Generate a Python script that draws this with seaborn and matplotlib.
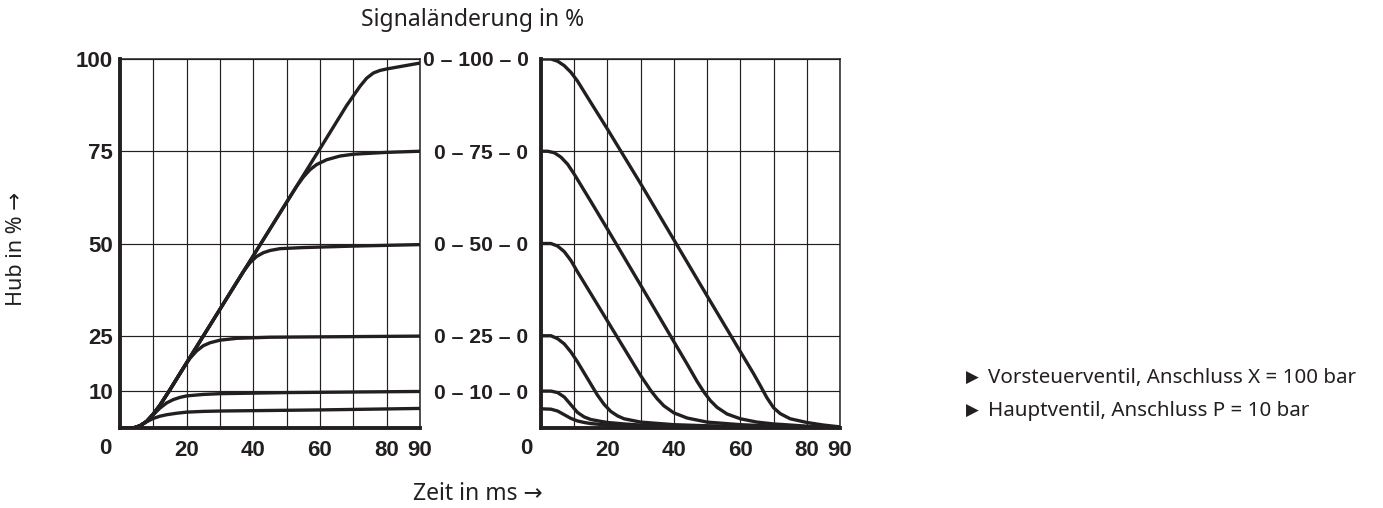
import matplotlib
matplotlib.use("Agg")
import matplotlib.pyplot as plt
import seaborn as sns
import pandas as pd

sns.set_theme(style="white")
plt.rcParams["font.family"] = ["Noto Sans", "DejaVu Sans"]

INK = "#231f20"
TICK_FONT = ["Liberation Sans", "DejaVu Sans"]

# axis ticks
time_ticks = [20, 40, 60, 80, 90]
time_grid = [10, 30, 50, 70]
level_ticks = [10, 25, 50, 75, 100]
level_labels_left = ["10", "25", "50", "75", "100"]
level_labels_right = ["0 – 10 – 0", "0 – 25 – 0", "0 – 50 – 0", "0 – 75 – 0", "0 – 100 – 0"]

# stroke build-up after a step signal (time in ms, stroke in %)
rise_t_100 = [0, 4, 6, 8, 10, 12, 15, 20, 30, 40, 50, 60, 68, 70, 72, 74, 76, 78, 80, 85, 90]
rise_h_100 = [0, 0, 0.6, 1.8, 3.8, 6.2, 10.4, 17.7, 32.2, 46.7, 61.2, 75.7, 87.4, 90.0, 92.6, 94.8, 96.2, 96.9, 97.3, 98.1, 98.9]
rise_t_75 = [0, 4, 6, 8, 10, 12, 15, 20, 30, 40, 50, 53, 55, 57, 59, 62, 66, 70, 80, 90]
rise_h_75 = [0, 0, 0.6, 1.8, 3.8, 6.2, 10.4, 17.7, 32.2, 46.7, 61.2, 65.5, 68.0, 70.0, 71.4, 72.7, 73.7, 74.2, 74.7, 75.0]
rise_t_50 = [0, 4, 6, 8, 10, 12, 15, 20, 30, 35, 37, 39, 41, 43, 45, 48, 55, 70, 90]
rise_h_50 = [0, 0, 0.6, 1.8, 3.8, 6.2, 10.4, 17.7, 32.2, 39.5, 42.4, 44.8, 46.5, 47.5, 48.1, 48.6, 48.9, 49.3, 49.7]
rise_t_25 = [0, 4, 6, 8, 10, 12, 15, 17, 19, 21, 23, 25, 27, 30, 35, 45, 90]
rise_h_25 = [0, 0, 0.6, 1.8, 3.8, 6.2, 10.4, 13.3, 16.2, 18.9, 20.9, 22.3, 23.1, 23.8, 24.3, 24.6, 24.9]
rise_t_10 = [0, 4, 6, 8, 10, 12, 14, 16, 18, 20, 25, 30, 50, 90]
rise_h_10 = [0, 0, 0.6, 1.8, 3.6, 5.4, 6.8, 7.7, 8.3, 8.7, 9.1, 9.3, 9.6, 9.9]
rise_t_5 = [0, 4, 6, 8, 10, 12, 14, 17, 20, 25, 30, 60, 90]
rise_h_5 = [0, 0, 0.6, 1.7, 2.6, 3.2, 3.6, 4.0, 4.3, 4.5, 4.6, 4.9, 5.3]

# stroke return after the signal is taken back
fall_t_100 = [0, 3, 5, 7, 9, 11, 15, 20, 30, 40, 50, 60, 64, 66, 68, 70, 72, 75, 80, 85, 90]
fall_h_100 = [100, 100, 99.4, 98.2, 96.4, 94.0, 88.2, 81.0, 66.2, 51.0, 35.8, 20.7, 14.7, 11.5, 8.2, 5.5, 3.9, 2.5, 1.5, 0.8, 0.3]
fall_t_75 = [0, 2, 4, 6, 8, 10, 15, 20, 30, 40, 44, 47, 49, 51, 53, 56, 60, 65, 70, 80, 90]
fall_h_75 = [75, 75, 74.6, 73.4, 71.5, 68.8, 61.4, 53.9, 38.7, 23.4, 17.3, 12.6, 9.8, 7.4, 5.6, 3.8, 2.5, 1.6, 1.1, 0.5, 0.2]
fall_t_50 = [0, 3, 5, 7, 9, 11, 15, 20, 25, 30, 33, 35, 37, 40, 44, 50, 60, 70, 90]
fall_h_50 = [50, 50, 49.3, 47.8, 45.4, 42.3, 36.4, 29.0, 21.6, 14.2, 10.2, 7.9, 6.0, 4.1, 2.7, 1.6, 0.9, 0.5, 0.1]
fall_t_25 = [0, 3, 5, 7, 9, 11, 13, 15, 17, 19, 21, 23, 25, 30, 40, 50, 70, 90]
fall_h_25 = [25, 25, 24.2, 22.8, 20.6, 17.9, 14.9, 11.9, 8.9, 6.4, 4.5, 3.3, 2.5, 1.6, 0.9, 0.6, 0.3, 0.1]
fall_t_10 = [0, 3, 5, 7, 9, 11, 13, 15, 18, 20, 25, 30, 40, 60, 90]
fall_h_10 = [10, 10, 9.6, 8.4, 6.3, 4.2, 3.0, 2.3, 1.8, 1.5, 1.1, 0.8, 0.6, 0.3, 0.1]
fall_t_5 = [0, 3, 5, 7, 9, 11, 13, 15, 20, 30, 40, 60, 90]
fall_h_5 = [5.2, 5.1, 4.6, 3.6, 2.6, 1.9, 1.5, 1.2, 0.8, 0.5, 0.3, 0.2, 0.0]


def frame(pairs):
    parts = []
    for name, t, h in pairs:
        parts.append(pd.DataFrame({"t": t, "h": h, "curve": name}))
    return pd.concat(parts, ignore_index=True)


rise = frame([
    ("100", rise_t_100, rise_h_100), ("75", rise_t_75, rise_h_75),
    ("50", rise_t_50, rise_h_50), ("25", rise_t_25, rise_h_25),
    ("10", rise_t_10, rise_h_10), ("5", rise_t_5, rise_h_5),
])
fall = frame([
    ("100", fall_t_100, fall_h_100), ("75", fall_t_75, fall_h_75),
    ("50", fall_t_50, fall_h_50), ("25", fall_t_25, fall_h_25),
    ("10", fall_t_10, fall_h_10), ("5", fall_t_5, fall_h_5),
])

W, H = 1383, 508
fig = plt.figure(figsize=(W / 100, H / 100), dpi=100)
ax_l = fig.add_axes([120 / W, 80 / H, 300 / W, 369 / H])
ax_r = fig.add_axes([541 / W, 80 / H, 299 / W, 369 / H])


def style(ax, ylabels, ypad, ysize):
    ax.set_xlim(0, 90)
    ax.set_ylim(0, 100)
    ax.set_xticks(time_ticks)
    ax.set_xticks(time_grid, minor=True)
    ax.set_xticklabels([str(v) for v in time_ticks])
    ax.set_yticks(level_ticks)
    ax.set_yticklabels(ylabels)
    ax.grid(True, which="both", color=INK, linewidth=0.85)
    ax.set_axisbelow(True)
    ax.tick_params(axis="both", which="both", length=0, colors=INK)
    ax.tick_params(axis="x", pad=9)
    ax.tick_params(axis="y", pad=ypad)
    for lab in ax.get_xticklabels():
        lab.set_fontsize(16)
    for lab in ax.get_yticklabels():
        lab.set_fontsize(ysize)
    for lab in ax.get_xticklabels() + ax.get_yticklabels():
        lab.set_fontfamily(TICK_FONT)
        lab.set_fontweight("bold")
        lab.set_color(INK)
    for side in ("left", "bottom"):
        ax.spines[side].set_linewidth(2.8)
        ax.spines[side].set_color(INK)
    for side in ("top", "right"):
        ax.spines[side].set_linewidth(1.1)
        ax.spines[side].set_color(INK)
    ax.set_xlabel("")
    ax.set_ylabel("")
    ax.annotate("0", xy=(0, 0), xycoords="axes fraction", xytext=(-15, -20),
                textcoords="offset pixels", ha="center", va="center",
                fontsize=16, fontweight="bold", family=TICK_FONT, color=INK)


for ax, data in ((ax_l, rise), (ax_r, fall)):
    sns.lineplot(data=data, x="t", y="h", units="curve", estimator=None,
                 sort=False, color=INK, linewidth=2.4, ax=ax, legend=False,
                 clip_on=True)

style(ax_l, level_labels_left, 5, 16)
style(ax_r, level_labels_right, 9, 15.2)

fig.text(473 / W, 1 - 20 / H, "Signaländerung in %", ha="center", va="center",
         fontsize=16.5, color=INK)
fig.text(478 / W, 1 - 494 / H, "Zeit in ms →", ha="center", va="center",
         fontsize=16.5, color=INK)
fig.text(17 / W, 1 - 249 / H, "Hub in % →", ha="center", va="center",
         rotation=90, fontsize=15.5, color=INK)

legend_lines = ["Vorsteuerventil, Anschluss X = 100 bar",
                "Hauptventil, Anschluss P = 10 bar"]
for i, txt in enumerate(legend_lines):
    y = 1 - (378 + 33 * i) / H
    fig.text(966 / W, y, "▶", ha="left", va="center", fontsize=12,
             family=["DejaVu Sans"], color=INK)
    fig.text(988 / W, y, txt, ha="left", va="center", fontsize=14.8,
             color=INK)

fig.savefig("out.png", dpi=100)
